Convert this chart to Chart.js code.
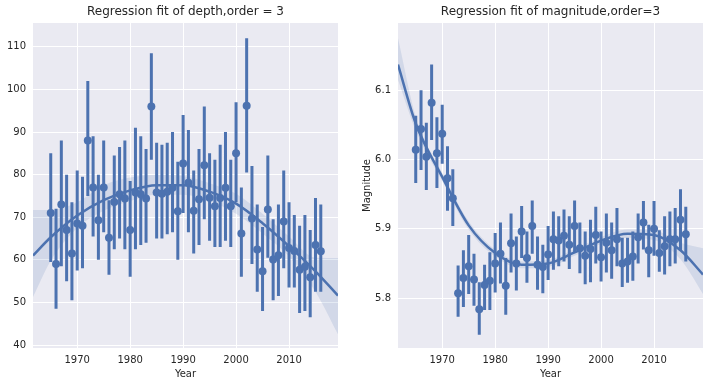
<!DOCTYPE html>
<html>
<head>
<meta charset="utf-8">
<script src="https://cdn.jsdelivr.net/npm/chart.js@4/dist/chart.umd.min.js"></script>
<style>
  html, body { margin: 0; padding: 0; background: #fff; }
  #wrap { position: relative; width: 710px; height: 387px; }
  .panel { position: absolute; top: 0; width: 355px; height: 387px; }
</style>
</head>
<body>
<div id="wrap">
  <div class="panel" style="left:0"><canvas id="chartDepth" width="355" height="387"></canvas></div>
  <div class="panel" style="left:355px"><canvas id="chartMag" width="355" height="387"></canvas></div>
</div>
<script>
/* =========================
   DADOS
========================= */

const years = [1965, 1966, 1967, 1968, 1969, 1970, 1971, 1972, 1973, 1974, 1975, 1976, 1977,
  1978, 1979, 1980, 1981, 1982, 1983, 1984, 1985, 1986, 1987, 1988, 1989, 1990, 1991,
  1992, 1993, 1994, 1995, 1996, 1997, 1998, 1999, 2000, 2001, 2002, 2003, 2004, 2005,
  2006, 2007, 2008, 2009, 2010, 2011, 2012, 2013, 2014, 2015, 2016];

// depth: mean per year + 95% ci
const depthMean = [71, 59, 73, 67, 61.5, 68.5, 68, 88, 77, 69.3, 77, 65.2, 73.6, 75.4, 74.4, 67,
  75.8, 75.4, 74.4, 96, 75.8, 75.5, 76, 76.9, 71.4, 82.6, 78.1, 71.5, 74.2, 82.2, 74.6, 72.6,
  74.5, 76.9, 72.6, 85, 66.2, 96.2, 69.7, 62.4, 57.3, 71.8, 60.1, 61.1, 69, 62.8, 62.1, 57.7,
  58.4, 55.9, 63.5, 62];
const depthLow = [59.5, 48.5, 58.5, 55, 50.5, 57.5, 58, 75, 65.5, 60, 66.5, 56.5, 62.5, 65, 62.5,
  56, 62.5, 63.5, 64, 83.5, 65, 65, 66, 66.5, 60, 71, 66.5, 61.5, 63.5, 69.5, 64.5, 63, 63,
  64.5, 63, 73.5, 56, 80.5, 59, 52.5, 48, 60.5, 50.5, 51.5, 58, 53.5, 53.5, 47.5, 48, 46.5,
  52.5, 52.5];
const depthHigh = [85, 72, 88, 80, 73.5, 81, 79.5, 102, 89, 80, 88, 74, 84.5, 86.5, 88, 78.5, 91,
  89, 86, 108.5, 87.5, 87, 87.5, 90, 83, 94, 90.5, 81, 86, 96, 85, 83.5, 87, 90, 83.5, 97, 77,
  112, 82, 73, 67.7, 84.5, 69.5, 73, 81, 73.5, 70.5, 68, 70.5, 67, 74.5, 73];

// magnitude: mean per year + 95% ci
const magMean = [6.014, 6.044, 6.004, 6.082, 6.009, 6.037, 5.973, 5.944, 5.807, 5.829, 5.846,
  5.827, 5.784, 5.819, 5.825, 5.850, 5.864, 5.818, 5.879, 5.850, 5.896, 5.858, 5.904, 5.848,
  5.845, 5.863, 5.885, 5.883, 5.890, 5.877, 5.904, 5.872, 5.861, 5.871, 5.891, 5.859, 5.880,
  5.869, 5.885, 5.850, 5.853, 5.860, 5.888, 5.909, 5.869, 5.900, 5.865, 5.875, 5.885, 5.885,
  5.913, 5.892];
const magLow = [5.966, 5.985, 5.956, 6.028, 5.959, 5.994, 5.926, 5.904, 5.773, 5.787, 5.806,
  5.789, 5.747, 5.783, 5.783, 5.808, 5.821, 5.776, 5.837, 5.811, 5.858, 5.822, 5.864, 5.812,
  5.807, 5.826, 5.841, 5.846, 5.853, 5.842, 5.866, 5.836, 5.820, 5.823, 5.850, 5.824, 5.837,
  5.828, 5.846, 5.816, 5.822, 5.825, 5.850, 5.870, 5.830, 5.861, 5.838, 5.834, 5.846, 5.850,
  5.869, 5.853];
const magHigh = [6.063, 6.100, 6.053, 6.137, 6.061, 6.079, 6.019, 5.986, 5.847, 5.869, 5.891,
  5.864, 5.823, 5.848, 5.866, 5.894, 5.909, 5.858, 5.922, 5.889, 5.933, 5.896, 5.941, 5.889,
  5.877, 5.904, 5.925, 5.918, 5.928, 5.918, 5.941, 5.909, 5.896, 5.913, 5.932, 5.896, 5.922,
  5.909, 5.930, 5.887, 5.887, 5.896, 5.922, 5.940, 5.906, 5.940, 5.898, 5.918, 5.925, 5.930,
  5.957, 5.932];

// curva de regressao (ordem 3), com banda de confianca
const fitYears = [1961.65, 1965, 1970, 1975, 1980, 1985, 1990, 1995, 2000, 2005, 2010, 2015, 2019.25];
const depthFit = [61, 65.3, 70.4, 74, 76.3, 77.5, 77.5, 76, 73.2, 68.6, 63.2, 57.3, 51.6];
const depthBandHigh = [71.7, 71.7, 73.5, 77.5, 79.3, 80, 79.7, 78, 75.5, 70.8, 65.5, 60.5, 60.4];
const depthBandLow = [51.3, 59.8, 67.5, 71.5, 73.8, 75.3, 75.3, 73.8, 70.8, 66.2, 60.8, 52.5, 42.5];
const magFit = [6.137, 6.052, 5.975, 5.905, 5.865, 5.848, 5.850, 5.866, 5.883, 5.893, 5.891, 5.869, 5.834];
const magBandHigh = [6.175, 6.062, 5.981, 5.911, 5.870, 5.853, 5.855, 5.871, 5.888, 5.899, 5.898, 5.880, 5.872];
const magBandLow = [6.115, 6.042, 5.969, 5.899, 5.860, 5.843, 5.845, 5.861, 5.878, 5.887, 5.884, 5.856, 5.806];

// ticks
const yearTicks = [1970, 1980, 1990, 2000, 2010];
const depthTicks = [40, 50, 60, 70, 80, 90, 100, 110];
const magTicks = [5.8, 5.9, 6.0, 6.1];

/* =========================
   ESTILO
========================= */

const BLUE = "#4C72B0";
const TEXT = "#262626";
const FONT = "'DejaVu Sans', sans-serif";

const plotBg = {
  id: "plotBg",
  beforeDraw(chart) {
    const { ctx, chartArea: a } = chart;
    ctx.save();
    ctx.fillStyle = "#EAEAF2";
    ctx.fillRect(a.left, a.top, a.width, a.height);
    ctx.restore();
  }
};

function pts(xs, ys) {
  return xs.map((x, i) => ({ x: x, y: ys[i] }));
}

// barras de erro: pares (lo, hi) separados por null
function errBars(lo, hi) {
  const out = [];
  years.forEach((y, i) => {
    out.push({ x: y, y: lo[i] }, { x: y, y: hi[i] }, { x: y, y: null });
  });
  return out;
}

/* =========================
   CHART
========================= */

function makeChart(canvasId, o) {
  return new Chart(document.getElementById(canvasId), {
    type: "line",
    data: {
      datasets: [
        {
          data: pts(fitYears, o.fit),
          borderColor: BLUE,
          borderWidth: 2.5,
          pointRadius: 0,
          cubicInterpolationMode: "monotone",
          fill: false,
          order: 0
        },
        {
          data: pts(years, o.mean),
          showLine: false,
          pointRadius: 4,
          pointBackgroundColor: BLUE,
          pointBorderWidth: 0,
          order: 1
        },
        {
          data: errBars(o.low, o.high),
          borderColor: BLUE,
          borderWidth: 3,
          borderCapStyle: "butt",
          pointRadius: 0,
          spanGaps: false,
          order: 2
        },
        {
          data: pts(fitYears, o.bandHigh),
          borderWidth: 0,
          pointRadius: 0,
          cubicInterpolationMode: "monotone",
          backgroundColor: "rgba(76,114,176,0.15)",
          fill: "+1",
          order: 3
        },
        {
          data: pts(fitYears, o.bandLow),
          borderWidth: 0,
          pointRadius: 0,
          cubicInterpolationMode: "monotone",
          fill: false,
          order: 4
        }
      ]
    },
    options: {
      responsive: false,
      animation: false,
      devicePixelRatio: 1,
      layout: { padding: { left: 0, right: o.padRight, top: 0, bottom: 0 } },
      plugins: {
        legend: { display: false },
        tooltip: { enabled: false },
        title: {
          display: true,
          text: o.title,
          fullSize: false,
          color: TEXT,
          font: { family: FONT, size: 12, weight: "normal", lineHeight: 1.2 },
          padding: { top: 5, bottom: 3.6 }
        }
      },
      scales: {
        x: {
          type: "linear",
          min: 1961.65,
          max: 2019.25,
          afterBuildTicks: ax => { ax.ticks = yearTicks.map(v => ({ value: v })); },
          afterFit: ax => { ax.height = 39; },
          grid: { color: "#fff", lineWidth: 1, drawTicks: false },
          border: { display: false },
          ticks: {
            color: TEXT,
            font: { family: FONT, size: 10 },
            padding: 6,
            maxRotation: 0,
            callback: v => String(v)
          },
          title: {
            display: true,
            text: "Year",
            color: TEXT,
            font: { family: FONT, size: 10 },
            padding: { top: 0, bottom: 7 }
          }
        },
        y: {
          type: "linear",
          min: o.yMin,
          max: o.yMax,
          afterBuildTicks: ax => { ax.ticks = o.ticks.map(v => ({ value: v })); },
          afterFit: ax => { ax.width = o.yWidth; },
          grid: { color: "#fff", lineWidth: 1, drawTicks: false },
          border: { display: false },
          ticks: {
            color: TEXT,
            font: { family: FONT, size: 10 },
            padding: 7,
            callback: o.tickFmt
          },
          title: {
            display: !!o.yTitle,
            text: o.yTitle || "",
            color: TEXT,
            font: { family: FONT, size: 10 },
            padding: { top: 6, bottom: 0 }
          }
        }
      }
    },
    plugins: [plotBg]
  });
}

makeChart("chartDepth", {
  title: "Regression fit of depth,order = 3",
  mean: depthMean, low: depthLow, high: depthHigh,
  fit: depthFit, bandHigh: depthBandHigh, bandLow: depthBandLow,
  yMin: 39.3, yMax: 115.6, ticks: depthTicks,
  tickFmt: v => String(v),
  yWidth: 33, padRight: 17
});

makeChart("chartMag", {
  title: "Regression fit of magnitude,order=3",
  mean: magMean, low: magLow, high: magHigh,
  fit: magFit, bandHigh: magBandHigh, bandLow: magBandLow,
  yMin: 5.728, yMax: 6.197, ticks: magTicks,
  tickFmt: v => v.toFixed(1),
  yTitle: "Magnitude",
  yWidth: 43, padRight: 7
});
</script>
</body>
</html>
